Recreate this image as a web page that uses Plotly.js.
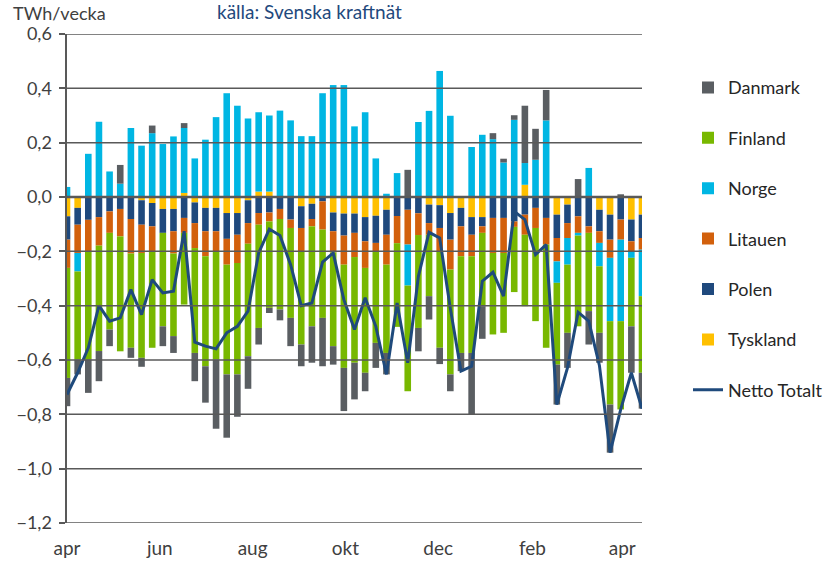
<!DOCTYPE html>
<html><head><meta charset="utf-8">
<script src="https://cdn.plot.ly/plotly-3.0.1.min.js"></script>
<style>html,body{margin:0;padding:0;background:#fff;}#chart{width:829px;height:567px;}</style>
</head><body><div id="chart"></div>
<script>
const weeks = ['2022-04-01','2022-04-08','2022-04-15','2022-04-22','2022-04-29','2022-05-06','2022-05-13','2022-05-20','2022-05-27',
'2022-06-03','2022-06-10','2022-06-17','2022-06-24','2022-07-01','2022-07-08','2022-07-15','2022-07-22','2022-07-29',
'2022-08-05','2022-08-12','2022-08-19','2022-08-26','2022-09-02','2022-09-09','2022-09-16','2022-09-23','2022-09-30',
'2022-10-07','2022-10-14','2022-10-21','2022-10-28','2022-11-04','2022-11-11','2022-11-18','2022-11-25',
'2022-12-02','2022-12-09','2022-12-16','2022-12-23','2022-12-30','2023-01-06','2023-01-13','2023-01-20','2023-01-27',
'2023-02-03','2023-02-10','2023-02-17','2023-02-24','2023-03-03','2023-03-10','2023-03-17','2023-03-24','2023-03-31',
'2023-04-07','2023-04-14'];

const tyskland = [-0.071,-0.040,0,0,0,0,0,-0.012,-0.022,-0.044,-0.044,0.015,-0.020,-0.040,-0.040,-0.059,-0.059,-0.012,
0.020,0.020,0,0,-0.034,-0.025,0,-0.057,-0.061,-0.061,-0.074,-0.069,-0.047,0,0,0,-0.028,
-0.030,-0.059,-0.040,-0.074,-0.074,0,0,0,0.045,0,0,-0.065,-0.028,0,0,-0.047,-0.065,0,-0.083,-0.065];
const polen = [-0.086,-0.062,-0.084,-0.074,-0.053,-0.044,-0.081,-0.090,-0.086,-0.088,-0.082,-0.077,-0.076,-0.086,-0.086,-0.095,-0.080,-0.084,
-0.059,-0.057,-0.044,-0.083,-0.080,-0.056,-0.016,-0.069,-0.081,-0.071,-0.089,-0.100,-0.092,-0.070,-0.047,-0.060,-0.068,
-0.084,-0.098,-0.068,-0.065,-0.034,-0.077,-0.077,-0.090,-0.065,-0.040,-0.077,-0.086,-0.068,-0.071,-0.108,-0.079,-0.092,-0.083,-0.080,-0.086];
const litauen = [-0.104,-0.104,-0.116,-0.105,-0.079,-0.101,-0.127,-0.104,-0.092,0,-0.082,-0.055,-0.092,-0.092,-0.074,-0.095,-0.104,-0.076,
-0.043,-0.033,-0.037,-0.031,-0.086,-0.027,-0.104,-0.078,-0.107,-0.089,-0.098,-0.031,-0.110,-0.100,-0.128,-0.080,-0.043,
-0.086,-0.110,-0.110,-0.079,-0.024,-0.129,-0.129,-0.020,-0.074,-0.074,-0.098,-0.086,-0.055,-0.061,-0.024,-0.043,-0.067,-0.074,-0.037,-0.043];
const norge = [0.037,-0.068,0.159,0.277,0.094,0.049,0.254,0.189,0.235,0.195,0.223,0.239,0.142,0.211,0.294,0.382,0.336,0.289,
0.292,0.280,0.318,0.282,0.224,0.224,0.382,0.412,0.412,0.260,0.312,0.142,0.012,0.088,-0.151,0.276,0.317,
0.464,0.299,0,0.184,0.229,0.213,0.127,0.284,0.080,0.137,0.282,-0.079,-0.098,-0.010,0.107,-0.086,-0.233,-0.300,-0.024,-0.171];
const finland = [-0.405,-0.324,-0.398,-0.388,-0.356,-0.423,-0.347,-0.386,-0.355,-0.344,-0.304,-0.264,-0.386,-0.405,-0.398,-0.404,-0.410,-0.414,
-0.380,-0.318,-0.333,-0.331,-0.343,-0.368,-0.325,-0.345,-0.380,-0.389,-0.386,-0.337,-0.325,-0.308,-0.389,-0.342,-0.226,
-0.355,-0.386,-0.356,-0.356,-0.270,-0.300,-0.294,-0.240,-0.263,-0.343,-0.380,-0.301,-0.251,-0.334,-0.288,-0.245,-0.307,-0.325,-0.252,-0.282];
const danmark = [-0.104,-0.055,-0.123,-0.111,-0.061,0.069,-0.037,-0.033,0.028,-0.073,-0.062,0.018,-0.104,-0.134,-0.255,-0.233,-0.156,-0.120,
-0.061,-0.019,-0.040,-0.104,-0.080,-0.134,-0.178,-0.068,-0.159,-0.135,-0.068,-0.092,-0.079,0,0.100,-0.086,-0.086,
-0.060,-0.062,-0.067,-0.226,-0.120,0.022,0.014,0.017,0.211,0.114,0.112,-0.147,-0.129,0.066,-0.123,-0.110,-0.177,0.010,-0.171,-0.132];
const netto = [-0.727,-0.647,-0.555,-0.400,-0.457,-0.445,-0.341,-0.433,-0.304,-0.353,-0.347,-0.126,-0.534,-0.549,-0.559,-0.500,-0.476,-0.420,
-0.206,-0.118,-0.142,-0.249,-0.400,-0.390,-0.240,-0.206,-0.378,-0.488,-0.371,-0.476,-0.653,-0.390,-0.610,-0.292,-0.130,
-0.151,-0.410,-0.641,-0.623,-0.310,-0.277,-0.365,-0.053,-0.083,-0.212,-0.175,-0.764,-0.629,-0.424,-0.457,-0.620,-0.941,-0.782,-0.647,-0.779];

const monthTickDates = ['2022-04-01','2022-06-01','2022-08-01','2022-10-01','2022-12-01','2023-02-01','2023-04-01'];
const monthTickLabels = ['apr','jun','aug','okt','dec','feb','apr'];

const FONT = 'Lato, "Open Sans", sans-serif';
const series = [
  {name:'Tyskland', y:tyskland, color:'#FFC000', rank:6},
  {name:'Polen', y:polen, color:'#1F497D', rank:5},
  {name:'Litauen', y:litauen, color:'#D2600C', rank:4},
  {name:'Norge', y:norge, color:'#00B6E3', rank:3},
  {name:'Finland', y:finland, color:'#78B800', rank:2},
  {name:'Danmark', y:danmark, color:'#5A5E62', rank:1}
];
const traces = series.map(s => ({
  type:'bar', x:weeks, y:s.y, name:s.name, legendrank:s.rank, legendgroup:s.name,
  marker:{color:s.color, line:{width:0}}, hoverinfo:'skip'
}));
traces.push({type:'scatter', mode:'lines', x:weeks, y:netto, name:'Netto Totalt', legendrank:7, legendgroup:'netto',
  line:{color:'#1F4A7C', width:3}, hoverinfo:'skip'});

const yMin = -1.2, yMax = 0.6, yStep = 0.2;
const gridShapes = [];
for (let v = yMin; v <= yMax + 1e-9; v += yStep) {
  const val = Math.round(v*10)/10;
  gridShapes.push({type:'line', xref:'paper', yref:'y', x0:0, x1:1, y0:val, y1:val, layer:'above',
    line:{color:'#595959', width: val === 0 ? 2.5 : 1.5}});
}

const layout = {
  width:829, height:567,
  margin:{l:67, r:187, t:34, b:44, autoexpand:false},
  paper_bgcolor:'#fff', plot_bgcolor:'#fff',
  barmode:'relative', bargap:0.38,
  separators:', ',
  font:{family:FONT, color:'#404040', size:18},
  xaxis:{type:'date', range:[weeks[0], weeks[weeks.length-1]], tickvals:monthTickDates, ticktext:monthTickLabels,
    showgrid:false, zeroline:false, showline:false, ticks:'', ticklabelstandoff:12, tickfont:{size:19, color:'#404040'}},
  yaxis:{range:[yMin, yMax], dtick:yStep, tick0:0, tickformat:'.1f', showgrid:false, zeroline:false,
    showline:true, linecolor:'#595959', linewidth:2.5, ticks:'outside', ticklen:6, tickwidth:2, tickcolor:'#595959',
    ticklabelstandoff:3, tickfont:{size:18, color:'#404040'}},
  shapes:gridShapes,
  showlegend:true,
  legend:{x:1.08, xanchor:'left', y:0.928, yanchor:'top', tracegroupgap:24,
    font:{size:18, color:'#262626'}, itemwidth:30, bgcolor:'rgba(0,0,0,0)'},
  annotations:[
    {text:'TWh/vecka', xref:'paper', yref:'paper', x:-0.097, y:1.043, xanchor:'left', yanchor:'middle',
     showarrow:false, font:{size:18, color:'#404040'}},
    {text:'källa: Svenska kraftnät', xref:'paper', yref:'paper', x:0.257, y:1.046, xanchor:'left', yanchor:'middle',
     showarrow:false, font:{size:19, color:'#1F497D'}}
  ]
};
Plotly.newPlot('chart', traces, layout, {staticPlot:true, displayModeBar:false});
</script></body></html>
